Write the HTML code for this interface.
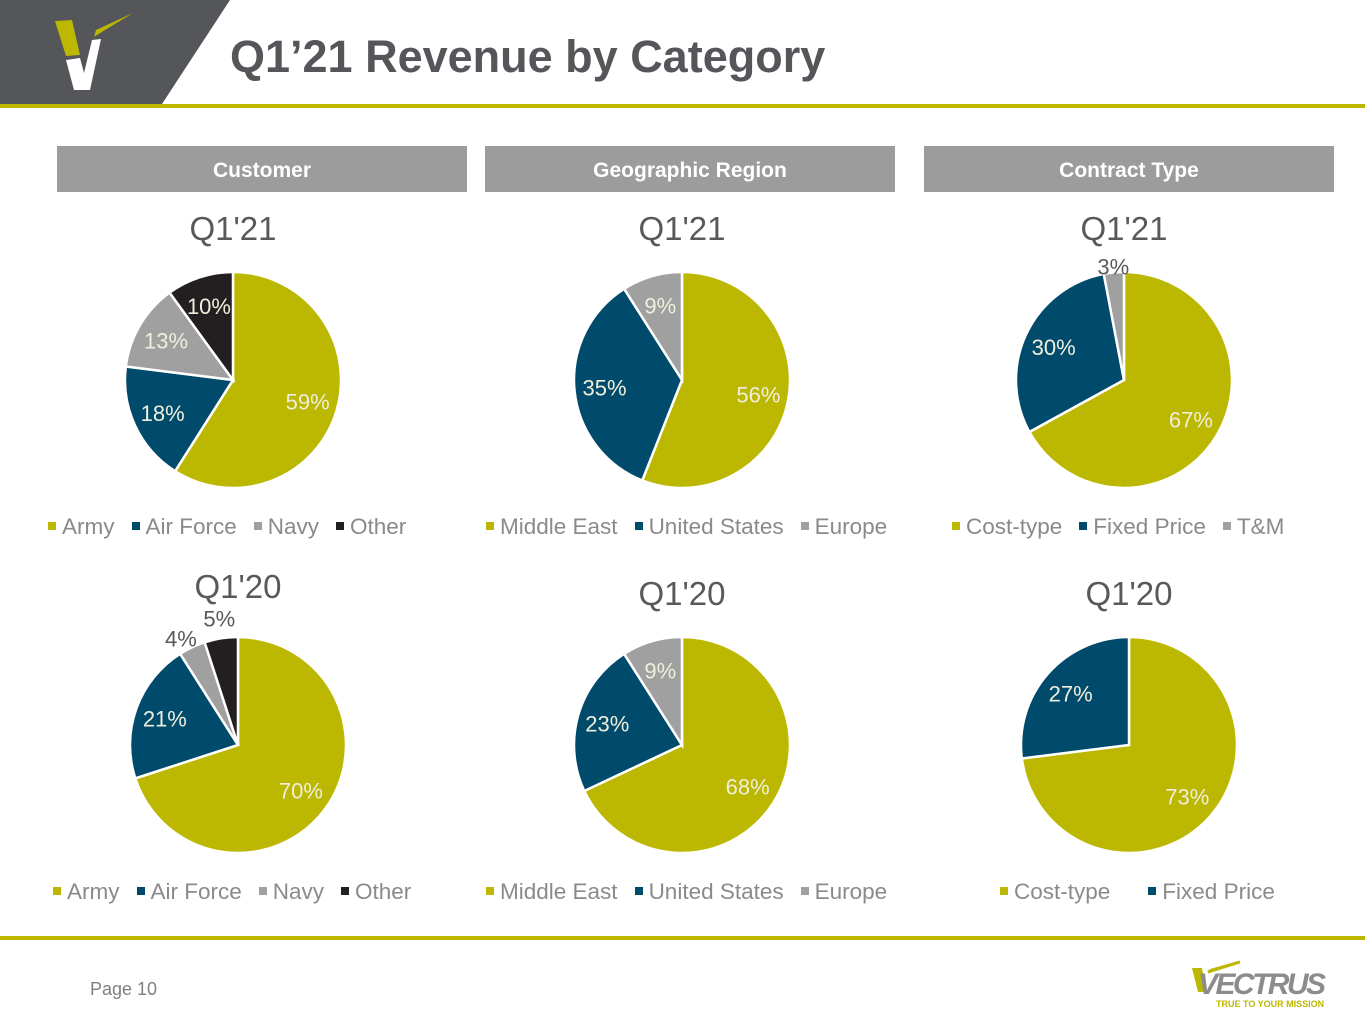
<!DOCTYPE html>
<html><head><meta charset="utf-8">
<style>
body{margin:0;width:1365px;height:1024px;overflow:hidden;background:#fff;font-family:"Liberation Sans",sans-serif;position:relative}
.hdr{position:absolute;top:146px;height:46px;width:410px;background:#9c9c9c;color:#fff;font-weight:bold;font-size:21px;text-align:center;line-height:50px}
.t{position:absolute;width:300px;text-align:center;color:#595959;font-size:33px}
.leg{position:absolute;font-size:22.5px;color:#8a8a8a;white-space:nowrap}
.leg span.sq{display:inline-block;width:8px;height:8px;margin-right:6px;vertical-align:middle;position:relative;top:-2px}
.leg span.it{margin-right:17px}
</style></head><body>
<svg style="position:absolute;left:0;top:0" width="1365" height="115">
<polygon points="0,0 230,0 162,104 0,104" fill="#54565a"/>
<rect x="0" y="104" width="1365" height="4" fill="#bcb700"/>
<polygon points="55,21 72,20 80,55 66,56" fill="#bcb700"/>
<polygon points="92,38 133,13 96,30 94,37" fill="#bcb700"/>
<polygon points="66,60 80,58 84,73 92,40 101,39 90,90 74,90" fill="#fff"/>
</svg>
<div style="position:absolute;left:230px;top:31px;font-size:45px;font-weight:bold;color:#54565a">Q1’21 Revenue by Category</div>
<div class="hdr" style="left:57px">Customer</div>
<div class="hdr" style="left:485px">Geographic Region</div>
<div class="hdr" style="left:924px">Contract Type</div>
<svg id="pies" style="position:absolute;left:0;top:0" width="1365" height="1024"></svg>
<div id="texts"></div>
<div style="position:absolute;left:0;top:936px;width:1365px;height:4px;background:#bcb700"></div>
<div style="position:absolute;left:90px;top:979px;font-size:18px;color:#7f7f7f">Page 10</div>
<svg style="position:absolute;left:1190px;top:960px" width="150" height="52">
<polygon points="2,8 12,8 16,32 8,32" fill="#bcb700"/>
<polygon points="18,12 50,2 22,10" fill="#bcb700" stroke="#bcb700" stroke-width="3"/>
<text x="8" y="34" font-family="Liberation Sans" font-weight="bold" font-style="italic" font-size="30" fill="#8c8c8c" textLength="128">VECTRUS</text>
<text x="26" y="47" font-family="Liberation Sans" font-weight="bold" font-size="9" fill="#bcb700">TRUE TO YOUR MISSION</text>
</svg>
<script>
const custCats=["Army","Air Force","Navy","Other"];
const cust21=[59,18,13,10];
const cust20=[70,21,4,5];
const geoCats=["Middle East","United States","Europe"];
const geo21=[56,35,9];
const geo20=[68,23,9];
const conCats=["Cost-type","Fixed Price","T&M"];
const con21=[67,30,3];
const con20=[73,27];
const colors=["#bcb700","#004b6b","#a0a0a0","#231f20"];
const charts=[
 {name:"customer-q121",cats:custCats,vals:cust21,cx:233,cy:380,title:"Q1'21",ty:210,ly:514,lx:48},
 {name:"customer-q120",cats:custCats,vals:cust20,cx:238,cy:745,title:"Q1'20",ty:568,ly:879,lx:53},
 {name:"geo-q121",cats:geoCats,vals:geo21,cx:682,cy:380,title:"Q1'21",ty:210,ly:514,lx:486},
 {name:"geo-q120",cats:geoCats,vals:geo20,cx:682,cy:745,title:"Q1'20",ty:575,ly:879,lx:486},
 {name:"contract-q121",cats:conCats,vals:con21,cx:1124,cy:380,title:"Q1'21",ty:210,ly:514,lx:952},
 {name:"contract-q120",cats:conCats,vals:con20,cx:1129,cy:745,title:"Q1'20",ty:575,ly:879,lx:1000}
];
const R=108,NS="http://www.w3.org/2000/svg";
const svg=document.getElementById('pies'),texts=document.getElementById('texts');
function pt(cx,cy,r,f){const a=f*2*Math.PI;return [cx+r*Math.sin(a),cy-r*Math.cos(a)];}
charts.forEach(c=>{
 const g=document.createElementNS(NS,'g');
 
 
 svg.appendChild(g);
 const tot=c.vals.reduce((a,b)=>a+b,0);let acc=0;
 c.vals.forEach((v,i)=>{
  const f0=acc/tot,f1=(acc+v)/tot;acc+=v;
  const p0=pt(c.cx,c.cy,R,f0),p1=pt(c.cx,c.cy,R,f1);
  const path=document.createElementNS(NS,'path');
  path.setAttribute('d',`M${c.cx},${c.cy}L${p0[0]},${p0[1]}A${R},${R} 0 ${f1-f0>0.5?1:0} 1 ${p1[0]},${p1[1]}Z`);
  path.setAttribute('fill',colors[i]);path.setAttribute('stroke','#fff');path.setAttribute('stroke-width','2.5');
  
  
  g.appendChild(path);
  const small=v/tot<0.06;const fm=(f0+f1)/2;
  const lp=pt(c.cx,c.cy,small?R+(c.vals.length>3?12:6):R*0.72,fm);
  if(small&&c.vals.length>3){ if(i===2){lp[0]-=6;lp[1]+=2;} else {lp[1]-=8;} }
  const t=document.createElementNS(NS,'text');
  t.setAttribute('x',lp[0]);t.setAttribute('y',lp[1]+8);t.setAttribute('text-anchor','middle');
  t.setAttribute('font-family','Liberation Sans');t.setAttribute('font-size','22');
  t.setAttribute('fill',small?'#595959':'#f0eedc');
  
  
  t.textContent=v+'%';g.appendChild(t);
 });
 const tt=document.createElement('div');tt.className='t';
 
 
 tt.style.left=(c.cx-150)+'px';tt.style.top=c.ty+'px';tt.textContent=c.title;texts.appendChild(tt);
 const lg=document.createElement('div');lg.className='leg';
 
 
 lg.style.left=c.lx+'px';lg.style.top=c.ly+'px';
 lg.innerHTML=c.vals.map((v,i)=>`<span class="it"><span class="sq" style="background:${colors[i]}"></span>${c.cats[i].replace('&','&amp;')}</span>`).join('');
 if(c.vals.length===2){lg.querySelectorAll('.it')[0].style.marginRight='38px';}
 texts.appendChild(lg);
});
</script>
</body></html>
